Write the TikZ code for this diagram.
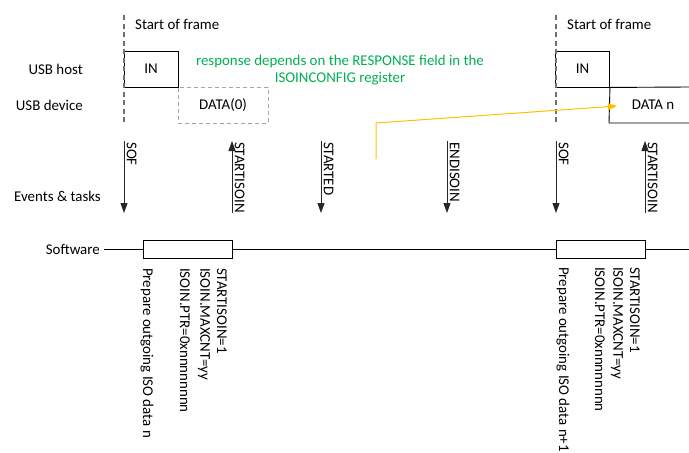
\documentclass[tikz,border=0pt]{standalone}
\usepackage{fontspec}
\setmainfont{Carlito}
\usetikzlibrary{arrows.meta}
\definecolor{dashgray}{HTML}{707070}
\definecolor{lightdash}{HTML}{A6A6A6}
\definecolor{greentxt}{HTML}{00B050}
\definecolor{orangeln}{HTML}{FFC000}
\tikzset{
  txt/.style={inner sep=0pt, font=\fontsize{14.9}{17.6}\selectfont},
  vtxt/.style={inner sep=0pt, rotate=-90, font=\fontsize{14.9}{17.6}\selectfont},
  pktbox/.style={draw=black, line width=0.9pt, minimum width=54pt, minimum height=36pt, inner sep=0pt, font=\fontsize{14.9}{17.6}\selectfont},
  framedash/.style={draw=dashgray, line width=1.3pt, dash pattern=on 5pt off 3.5pt},
  evarrow/.style={draw=black!85, line width=0.9pt, -{Triangle[length=10pt,width=7pt]}},
  swbox/.style={draw=black, line width=0.9pt, minimum width=89pt, minimum height=18pt, inner sep=0pt},
  swline/.style={draw=black, line width=0.9pt}
}
\begin{document}
\begin{tikzpicture}[x=1pt,y=-1pt]
\useasboundingbox (0,0) rectangle (689,453);

% row labels
\node[txt, anchor=east] (lhost) at (83,69) {USB host};
\node[txt, anchor=east] (ldev) at (83,105) {USB device};
\node[txt, anchor=east] (lev) at (101,196) {Events \& tasks};
\node[txt, anchor=east] (lsw) at (100,249) {Software};

% frame 1
\node[pktbox] (in1) at (151,69) {IN};
\node[pktbox, draw=lightdash, dash pattern=on 4pt off 3pt, minimum width=90pt] (data0) at (223,105) {DATA(0)};
\coordinate (f1top) at (124,15);
\coordinate (f1bot) at (124,122);
\draw[framedash] (f1top) -- (f1bot);
\node[txt, anchor=west] (sof1lbl) at (135,24) {Start of frame};

% frame 2
\node[pktbox] (in2) at (582.5,69) {IN};
\coordinate (r1) at (689,87);
\coordinate (dnbl) at (609,123);
\coordinate (r2) at (689,123);
\draw[swline] (in2.south east) -- (r1);
\draw[swline] (in2.south east) -- (dnbl) -- (r2);
\node[txt] (datan) at (653,105) {DATA n};
\coordinate (f2top) at (556,15);
\coordinate (f2bot) at (556,122);
\draw[framedash] (f2top) -- (f2bot);
\node[txt, anchor=west] (sof2lbl) at (567,24) {Start of frame};

% green note
\node[txt, text=greentxt, align=center] (note) at (340,70) {response depends on the RESPONSE field in the\\ISOINCONFIG register};

% orange arrow
\coordinate (o1) at (376,159);
\coordinate (o2) at (376,123);
\coordinate (o3) at (617,106);
\draw[draw=orangeln, line width=1pt, -{Triangle[length=9pt,width=7pt]}] (o1) -- (o2) -- (o3);

% event arrows
\coordinate (sofat) at (124,141); \coordinate (sofab) at (124,213);
\coordinate (siat) at (232,141);  \coordinate (siab) at (232,213);
\coordinate (stat) at (321,141);  \coordinate (stab) at (321,213);
\coordinate (endit) at (447,141); \coordinate (endib) at (447,213);
\coordinate (sofbt) at (556,141); \coordinate (sofbb) at (556,213);
\coordinate (sibt) at (645,141);  \coordinate (sibb) at (645,213);
\draw[evarrow] (sofat) -- (sofab);
\draw[evarrow] (siab) -- (siat);
\draw[evarrow] (stat) -- (stab);
\draw[evarrow] (endit) -- (endib);
\draw[evarrow] (sofbt) -- (sofbb);
\draw[evarrow] (sibb) -- (sibt);
\node[vtxt, anchor=south west] (lsofa) at (126.5,142) {SOF};
\node[vtxt, anchor=south west] (lsia) at (234.5,142) {STARTISOIN};
\node[vtxt, anchor=south west] (lsta) at (323.5,142) {STARTED};
\node[vtxt, anchor=south west] (lendi) at (449.5,142) {ENDISOIN};
\node[vtxt, anchor=south west] (lsofb) at (558.5,142) {SOF};
\node[vtxt, anchor=south west] (lsib) at (647.5,142) {STARTISOIN};

% software line
\node[swbox] (sw1) at (187.5,249) {};
\node[swbox] (sw2) at (600.5,249) {};
\coordinate (swstart) at (104,249);
\coordinate (swend) at (689,249);
\draw[swline] (swstart) -- (sw1.west);
\draw[swline] (sw1.east) -- (sw2.west);
\draw[swline] (sw2.east) -- (swend);

% software annotations
\node[vtxt, anchor=west] (p1) at (147,268) {Prepare outgoing ISO data n};
\node[vtxt, anchor=west] (ptr1) at (185,268) {ISOIN.PTR=0xnnnnnnnn};
\node[vtxt, anchor=west] (max1) at (204,268) {ISOIN.MAXCNT=yy};
\node[vtxt, anchor=west] (st1) at (222,268) {STARTISOIN=1};
\node[vtxt, anchor=west] (p2) at (563,267) {Prepare outgoing ISO data n+1};
\node[vtxt, anchor=west] (ptr2) at (600,267) {ISOIN.PTR=0xnnnnnnnn};
\node[vtxt, anchor=west] (max2) at (617,267) {ISOIN.MAXCNT=yy};
\node[vtxt, anchor=west] (st2) at (635,267) {STARTISOIN=1};
\end{tikzpicture}
\end{document}
